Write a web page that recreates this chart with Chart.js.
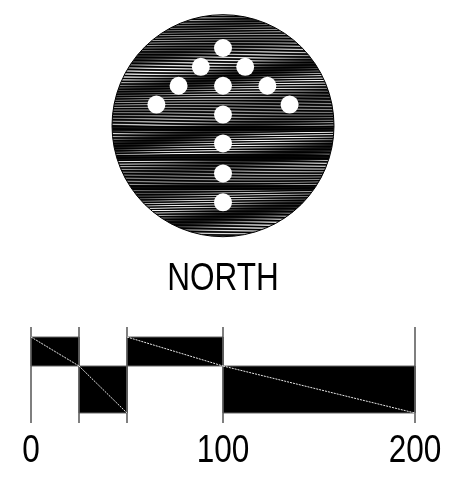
<!DOCTYPE html>
<html>
<head>
<meta charset="utf-8">
<script src="https://cdn.jsdelivr.net/npm/chart.js@4"></script>
<style>
  html, body { margin: 0; padding: 0; background: #fff; }
  #wrap { width: 459px; height: 488px; }
</style>
</head>
<body>
<div id="wrap"><canvas id="c" width="459" height="488"></canvas></div>
<script>
// scale bar data (distance units)
const segmentEdges = [0, 25, 50, 100, 200];
const segmentHalf = ['top', 'bottom', 'top', 'bottom'];
const tickLabels = [0, 100, 200];
const barLevels = { bottom: 0, mid: 47, top: 76 };
const tickExtent = [-10, 86];

// north arrow dots, in circle-radius units from the compass centre
const arrowDotX = [0, -0.2, 0.2, -0.4, 0, 0.4, -0.6, 0.6, 0, 0, 0, 0];
const arrowDotY = [-0.7, -0.53, -0.53, -0.36, -0.36, -0.36, -0.19, -0.19, -0.1, 0.16, 0.43, 0.69];

const W = 459, H = 488;
const AXIS_H = 60;
const CX = 223, CY = 125.7, R = 111;
const FONT = '38px "Liberation Sans", Arial, sans-serif';
const NARROW = 0.83;

// streaky texture for the compass disc
function makeTexture() {
  const off = document.createElement('canvas');
  off.width = W; off.height = H;
  const g = off.getContext('2d');
  const img = g.createImageData(W, H);
  for (let y = Math.floor(CY - R); y < CY + R; y++) {
    for (let x = Math.floor(CX - R); x < CX + R; x++) {
      const base = 0.5 + 0.5 * Math.cos(2 * Math.PI * (y / 2.7 + 0.45 * Math.sin(x / 70 + y / 9)));
      const env = 0.55 + 0.45 * Math.sin(x / 35 + y / 5.5) * Math.cos(y / 23);
      let v = Math.pow(base, 1.5) * env;
      if ([128, 157, 187].some(b => Math.abs(y - b) < 2.5)) v *= 0.1;
      const i = (y * W + x) * 4;
      img.data[i] = img.data[i + 1] = img.data[i + 2] = Math.round(v * 255);
      img.data[i + 3] = 255;
    }
  }
  g.putImageData(img, 0, 0);
  return g.createPattern(off, 'no-repeat');
}

const ctx = document.getElementById('c').getContext('2d');
const texture = makeTexture();

const datasets = [];

// compass disc
datasets.push({
  xAxisID: 'xc', yAxisID: 'yc', order: 5,
  data: [{ x: 0, y: 0 }],
  pointRadius: R, pointBackgroundColor: texture,
  pointBorderColor: '#000', pointBorderWidth: 1
});
// arrow dots
datasets.push({
  xAxisID: 'xc', yAxisID: 'yc', order: 0,
  data: arrowDotX.map((x, i) => ({ x: x, y: arrowDotY[i] })),
  pointRadius: 9, pointBackgroundColor: '#fff', pointBorderWidth: 0
});

// scale bar boxes and diagonals
segmentHalf.forEach((half, i) => {
  const a = segmentEdges[i], b = segmentEdges[i + 1];
  const hi = half === 'top' ? barLevels.top : barLevels.mid;
  const lo = half === 'top' ? barLevels.mid : barLevels.bottom;
  datasets.push({
    order: 4, showLine: true, fill: 'shape',
    data: [{ x: a, y: lo }, { x: a, y: hi }, { x: b, y: hi }, { x: b, y: lo }, { x: a, y: lo }],
    backgroundColor: '#000', borderColor: '#666', borderWidth: 1, pointRadius: 0
  });
  datasets.push({
    order: 1, showLine: true,
    data: [{ x: a, y: hi }, { x: b, y: lo }],
    borderColor: '#e8e8e8', borderWidth: 1, borderDash: [2, 1], pointRadius: 0
  });
});
// vertical ticks
segmentEdges.forEach(e => {
  datasets.push({
    order: 2, showLine: true,
    data: [{ x: e, y: tickExtent[0] }, { x: e, y: tickExtent[1] }],
    borderColor: '#555', borderWidth: 1.5, pointRadius: 0
  });
});

function narrowText(c, text, x, y) {
  c.save();
  c.translate(x, y);
  c.scale(NARROW, 1);
  c.fillText(text, 0, 0);
  c.restore();
}

// NORTH caption and condensed tick labels placed through the x scale
const labelsPlugin = {
  id: 'labelsPlugin',
  afterDraw(chart) {
    const c = chart.ctx;
    c.save();
    c.fillStyle = '#000';
    c.font = FONT;
    c.textAlign = 'center';
    c.textBaseline = 'middle';
    narrowText(c, 'NORTH', CX, 280);
    tickLabels.forEach(v => {
      narrowText(c, String(v), chart.scales.x.getPixelForValue(v), 452);
    });
    c.restore();
  }
};

const pxPerUnit = 1.92, zeroPx = 31;
const plotH = H - AXIS_H;

new Chart(ctx, {
  type: 'scatter',
  data: { datasets: datasets },
  plugins: [labelsPlugin],
  options: {
    responsive: false, animation: false, devicePixelRatio: 1,
    layout: { padding: 0, autoPadding: false },
    plugins: { legend: { display: false }, tooltip: { enabled: false } },
    scales: {
      x: {
        type: 'linear', position: 'bottom',
        min: -zeroPx / pxPerUnit, max: (W - zeroPx) / pxPerUnit,
        grid: { display: false, drawTicks: false }, border: { display: false },
        afterBuildTicks: s => { s.ticks = tickLabels.map(v => ({ value: v })); },
        afterFit: s => { s.height = AXIS_H; },
        ticks: { display: false }
      },
      y: {
        type: 'linear', display: false,
        min: -(plotH - 413), max: 413
      },
      xc: {
        type: 'linear', display: false, position: 'bottom',
        min: -CX / R, max: (W - CX) / R
      },
      yc: {
        type: 'linear', display: false, reverse: true,
        min: -CY / R, max: (plotH - CY) / R
      }
    }
  }
});
</script>
</body>
</html>
